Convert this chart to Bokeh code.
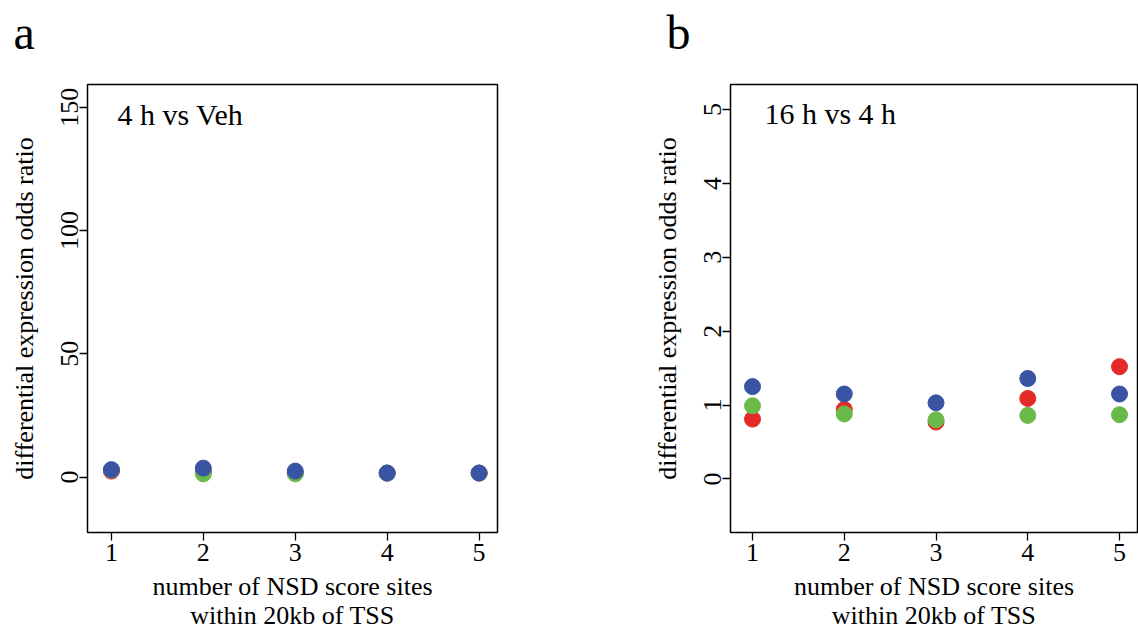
from bokeh.plotting import figure
from bokeh.layouts import row, column
from bokeh.models import Label, FixedTicker, Range1d
from bokeh.core.properties import value
from bokeh.embed import file_html
from bokeh.resources import INLINE

# ---- data ----
sites = [1, 2, 3, 4, 5]
a_red = [2.4, 2.0, 1.6, 1.6, 1.6]
a_green = [2.8, 1.3, 1.3, 1.6, 1.6]
a_blue = [3.0, 3.6, 2.4, 1.6, 1.6]

b_red = [0.81, 0.94, 0.77, 1.09, 1.52]
b_green = [0.99, 0.88, 0.80, 0.86, 0.87]
b_blue = [1.25, 1.15, 1.03, 1.36, 1.15]

a_yticks = [0, 50, 100, 150]
b_yticks = [0, 1, 2, 3, 4, 5]
xticks = [1, 2, 3, 4, 5]
panel_letters = ["a", "b"]

RED = "#E42A28"
GREEN = "#6ABA4A"
BLUE = "#3A54A4"
FONT = "Liberation Serif"


def make_strip(letter, lx):
    s = figure(width=569, height=60, output_backend="svg", toolbar_location=None,
               x_range=Range1d(0, 569), y_range=Range1d(0, 60),
               x_axis_location=None, y_axis_location=None,
               min_border=0)
    s.title.visible = False
    s.grid.visible = False
    s.outline_line_color = None
    s.text(x=[lx], y=[28], text=[letter], text_font=value(FONT),
           text_font_size="48px", text_color="black",
           text_baseline="middle")
    return s


def make_panel(width, left, right, xr, yr, yticks, reds, greens, blues,
               title, tx, ty):
    p = figure(width=width, height=572, output_backend="svg",
               toolbar_location=None, x_range=Range1d(*xr), y_range=Range1d(*yr),
               min_border_left=left, min_border_right=right,
               min_border_top=24, min_border_bottom=96)
    p.grid.visible = False
    p.outline_line_color = "black"
    p.outline_line_width = 1.5
    p.background_fill_color = "white"
    p.border_fill_color = "white"
    for ax in (p.xaxis[0], p.yaxis[0]):
        ax.axis_line_color = None
        ax.major_tick_out = 8
        ax.major_tick_in = 0
        ax.minor_tick_line_color = None
        ax.major_tick_line_width = 1.3
        ax.major_label_text_font = FONT
        ax.major_label_text_color = "black"
        ax.major_label_text_font_size = "26px"
        ax.axis_label_text_font = FONT
        ax.axis_label_text_font_size = "26px"
        ax.axis_label_text_font_style = "normal"
        ax.axis_label_text_color = "black"
        ax.axis_label_text_line_height = 1.0
    p.xaxis.ticker = FixedTicker(ticks=xticks)
    p.yaxis.ticker = FixedTicker(ticks=yticks)
    p.yaxis.major_label_orientation = "vertical"
    p.xaxis.axis_label = "number of NSD score sites\nwithin 20kb of TSS"
    p.yaxis.axis_label = "differential expression odds ratio"
    p.xaxis.major_label_standoff = 3
    p.xaxis.axis_label_standoff = 8
    p.yaxis.major_label_standoff = 1
    p.yaxis.axis_label_standoff = 20

    p.scatter(sites, reds, size=16, color=RED)
    p.scatter(sites, greens, size=16, color=GREEN)
    p.scatter(sites, blues, size=16, color=BLUE)

    p.add_layout(Label(x=tx, y=ty, text=title, text_font=FONT,
                       text_font_size="30px", text_color="black",
                       text_baseline="alphabetic"))
    return p


pa = make_panel(569, 87, 72, (0.74, 5.2), (-22.5, 159.2), a_yticks,
                a_red, a_green, a_blue, "4 h vs Veh", 1.066, 147.1)
pb = make_panel(569, 161, 1, (0.76, 5.196), (-0.725, 5.34), b_yticks,
                b_red, b_green, b_blue, "16 h vs 4 h", 1.13, 4.95)
sa = make_strip(panel_letters[0], 13)
sb = make_strip(panel_letters[1], 97)

layout = column(row(sa, sb), row(pa, pb))
open("out.html", "w").write(file_html(layout, INLINE))
